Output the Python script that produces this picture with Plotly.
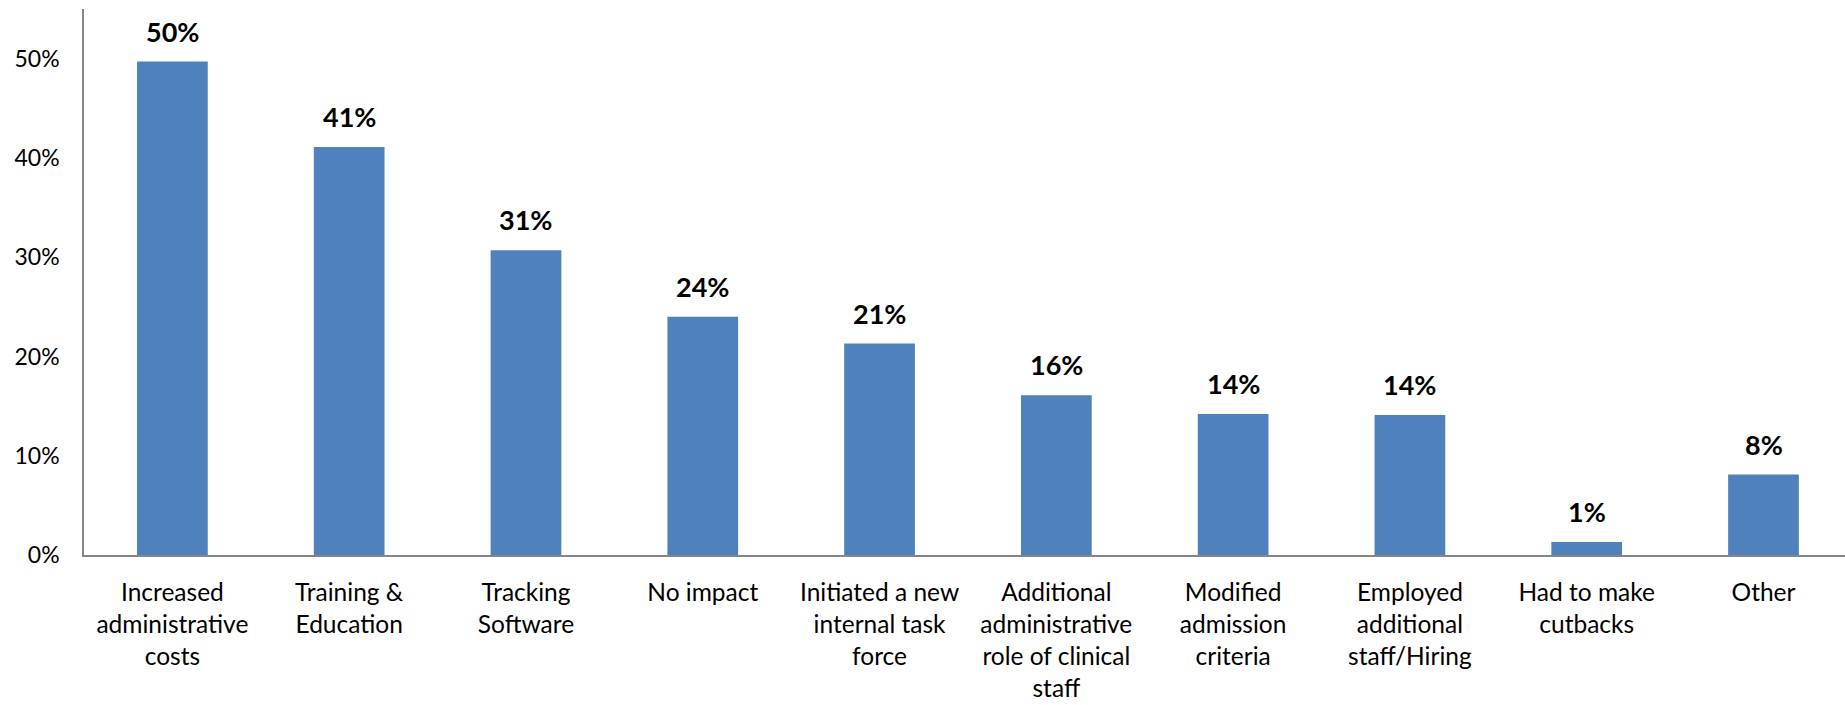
import plotly.graph_objects as go

categories = [
    "Increased<br>administrative<br>costs",
    "Training &<br>Education",
    "Tracking<br>Software",
    "No impact",
    "Initiated a new<br>internal task<br>force",
    "Additional<br>administrative<br>role of clinical<br>staff",
    "Modified<br>admission<br>criteria",
    "Employed<br>additional<br>staff/Hiring",
    "Had to make<br>cutbacks",
    "Other",
]
values = [0.497, 0.411, 0.307, 0.240, 0.213, 0.161, 0.142, 0.141, 0.013, 0.081]
labels = ["50%", "41%", "31%", "24%", "21%", "16%", "14%", "14%", "1%", "8%"]
y_ticks = [0, 0.1, 0.2, 0.3, 0.4, 0.5]
y_tick_text = ["0%", "10%", "20%", "30%", "40%", "50%"]

FONT = "Lato, 'Open Sans', sans-serif"
x_idx = list(range(len(categories)))

fig = go.Figure()
fig.add_trace(go.Bar(
    x=x_idx, y=values,
    marker=dict(color="#4F81BD", line=dict(width=0)),
    hoverinfo="skip",
))

for xi, v, t in zip(x_idx, values, labels):
    fig.add_annotation(
        x=xi, y=v, text=f"<b>{t}</b>", showarrow=False,
        yanchor="bottom", xanchor="center", yshift=12,
        font=dict(family=FONT, size=27, color="#000000"),
    )

fig.update_layout(
    width=1845, height=705,
    margin=dict(l=84, r=0, t=9, b=150, autoexpand=False),
    paper_bgcolor="white", plot_bgcolor="white",
    bargap=0.6,
    showlegend=False,
    font=dict(family=FONT, color="#000000"),
)
fig.update_xaxes(
    tickmode="array", tickvals=x_idx, ticktext=categories,
    range=[-0.5, 9.461],
    showline=True, linecolor="#868686", linewidth=1.5,
    showgrid=False, zeroline=False, ticks="",
    tickfont=dict(family=FONT, size=24.5, color="#000000"),
    ticklabelstandoff=15,
    automargin=False,
)
fig.update_yaxes(
    range=[0, 0.55],
    tickmode="array", tickvals=y_ticks, ticktext=y_tick_text,
    showline=True, linecolor="#868686", linewidth=1.5,
    showgrid=False, zeroline=False, ticks="",
    tickfont=dict(family=FONT, size=23, color="#000000"),
    ticklabelstandoff=18,
    automargin=False,
)

fig.write_html(
    "out.html",
    config={"displayModeBar": False},
    post_script="document.body.style.margin='0';document.body.style.overflow='hidden';",
)
